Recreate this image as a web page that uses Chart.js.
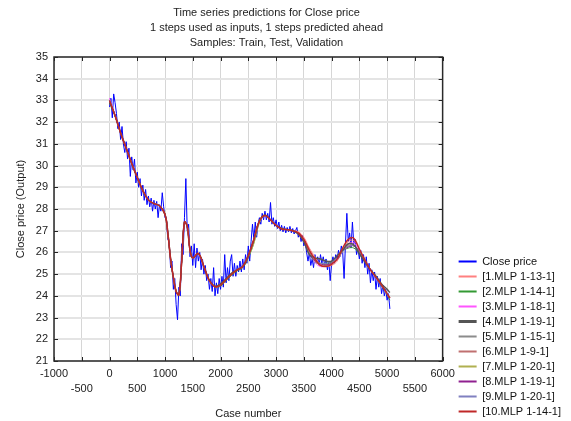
<!DOCTYPE html>
<html><head><meta charset="utf-8">
<script src="https://cdn.jsdelivr.net/npm/chart.js@4.4.0/dist/chart.umd.min.js"></script>
<style>html,body{margin:0;padding:0;background:#fff;}#wrap{width:571px;height:421px;}</style>
</head><body><div id="wrap"><canvas id="c" width="571" height="421"></canvas></div>
<script>
const titleLines = ['Time series predictions for Close price', '1 steps used as inputs, 1 steps predicted ahead', 'Samples: Train, Test, Validation'];
const xTitle = 'Case number';
const yTitle = 'Close price (Output)';
const seriesNames = ['Close price','[1.MLP 1-13-1]','[2.MLP 1-14-1]','[3.MLP 1-18-1]','[4.MLP 1-19-1]','[5.MLP 1-15-1]','[6.MLP 1-9-1]','[7.MLP 1-20-1]','[8.MLP 1-19-1]','[9.MLP 1-20-1]','[10.MLP 1-14-1]'];

// Close price: one value every 25 cases starting at case 0
const closeStart = 0, closeStep = 25;
const closeValues = [
32.7,33.1,32.2,33.3,32.9,32.4,31.7,32.0,31.2,31.8,
31.0,30.6,31.1,30.3,30.8,29.5,30.4,29.8,30.3,29.2,
29.7,29.0,29.4,28.6,29.1,28.4,28.9,28.2,28.6,28.1,
28.5,27.9,28.4,28.0,28.35,27.6,28.2,27.9,28.75,28.1,
27.6,27.5,26.6,26.5,25.3,25.6,24.3,24.8,23.6,22.9,
24.4,24.0,26.4,25.9,27.6,29.4,27.0,27.3,25.8,26.3,
25.4,26.4,25.3,26.2,25.6,26.0,25.2,25.7,25.0,25.4,
24.7,25.0,24.3,24.8,24.2,25.3,24.0,24.6,24.1,24.8,
24.3,24.9,24.4,25.9,24.6,25.3,24.7,25.6,25.9,24.9,
25.5,24.9,25.4,25.1,25.6,25.1,25.7,25.2,25.9,25.5,
26.3,25.6,26.5,27.3,26.6,27.4,26.7,27.3,27.6,27.3,
27.8,27.5,27.9,27.5,27.8,27.4,28.3,27.3,27.6,27.2,
27.5,27.1,27.4,27.0,27.25,26.95,27.2,26.9,27.15,26.95,
27.2,26.9,27.1,26.85,27.0,27.15,26.7,26.9,26.5,26.8,
26.3,26.5,26.0,25.6,26.0,25.4,25.7,25.3,25.9,25.5,
25.8,25.4,25.9,25.5,25.8,25.4,25.7,25.2,25.6,24.7,
25.5,25.8,25.5,25.9,25.7,26.1,25.8,26.3,26.0,24.8,
26.4,27.8,26.5,26.9,26.2,27.4,26.4,26.6,25.9,26.2,
25.7,26.1,25.5,25.9,25.3,25.8,25.0,25.5,24.6,25.2,
24.7,25.1,24.3,24.9,24.4,24.8,24.1,24.5,24.0,24.3,
23.8,24.1,23.4];

// model predictions sampled at these cases
const modelCases = [0,100,200,300,400,500,600,700,800,900,1000,1050,1100,1150,1200,1250,1300,1350,1400,1450,1500,1600,1700,1800,1900,2000,2100,2200,2300,2400,2500,2600,2700,2800,2900,3000,3100,3200,3300,3400,3500,3600,3700,3800,3900,4000,4100,4200,4300,4400,4500,4600,4700,4800,4900,5000,5050];
const mlp1 = [33.0,32.3,31.5,30.8,30.1,29.45,28.85,28.42,28.25,28.15,27.75,26.9,25.7,24.85,24.2,24.05,25.6,27.4,27.2,26.1,25.75,25.95,25.35,24.7,24.42,24.5,24.75,25.0,25.2,25.35,25.85,26.6,27.45,27.7,27.5,27.25,27.08,27.05,27.0,26.95,26.7,26.2,25.8,25.45,25.35,25.4,25.6,26.1,26.5,26.55,26.15,25.65,25.2,24.85,24.5,24.1,23.9];
const mlp2 = [32.95,32.3,31.5,30.8,30.1,29.45,28.85,28.42,28.25,28.15,27.75,26.9,25.7,24.85,24.2,24.05,25.6,27.4,27.2,26.1,25.75,25.95,25.35,24.7,24.4,24.45,24.7,24.95,25.15,25.3,25.75,26.45,27.4,27.7,27.5,27.25,27.08,27.05,27.0,26.85,26.5,25.95,25.55,25.5,25.5,25.55,25.68,26.05,26.2,26.2,25.95,25.6,25.2,24.85,24.45,24.05,23.8];
const mlp3 = [33.1,32.3,31.5,30.8,30.1,29.45,28.85,28.42,28.25,28.15,27.75,26.9,25.7,24.85,24.2,24.05,25.6,27.4,27.2,26.1,25.75,25.95,25.35,24.7,24.42,24.5,24.75,25.0,25.2,25.35,25.85,26.6,27.45,27.7,27.5,27.25,27.08,27.05,27.0,26.85,26.55,26.05,25.55,25.35,25.38,25.5,25.68,26.05,26.4,26.45,26.1,25.6,25.2,24.85,24.5,24.1,23.9];
const mlp4 = [32.9,32.3,31.5,30.8,30.1,29.45,28.85,28.42,28.25,28.15,27.75,26.9,25.7,24.85,24.2,24.05,25.6,27.4,27.2,26.1,25.75,25.95,25.35,24.7,24.45,24.55,24.8,25.05,25.2,25.35,25.85,26.6,27.45,27.72,27.5,27.25,27.1,27.05,27.0,26.85,26.5,25.9,25.75,25.7,25.6,25.6,25.85,26.1,26.4,26.35,25.95,25.55,25.2,24.9,24.55,24.3,24.15];
const mlp5 = [33.0,32.3,31.5,30.8,30.1,29.45,28.85,28.42,28.25,28.15,27.75,26.9,25.7,24.85,24.2,24.05,25.6,27.4,27.2,26.1,25.75,25.95,25.35,24.7,24.42,24.5,24.75,25.0,25.2,25.35,25.85,26.6,27.45,27.7,27.5,27.25,27.08,27.05,27.0,26.85,26.5,25.95,25.6,25.5,25.45,25.5,25.68,26.05,26.25,26.3,26.02,25.6,25.2,24.85,24.5,24.1,23.9];
const mlp6 = [33.0,32.3,31.5,30.8,30.1,29.45,28.85,28.42,28.25,28.15,27.75,26.9,25.7,24.85,24.2,24.05,25.6,27.4,27.2,26.1,25.75,25.95,25.35,24.7,24.42,24.5,24.75,25.0,25.2,25.35,25.85,26.6,27.45,27.7,27.5,27.25,27.08,27.05,27.0,26.9,26.6,26.05,25.62,25.48,25.42,25.5,25.68,26.05,26.35,26.35,26.02,25.6,25.2,24.85,24.5,24.1,23.9];
const mlp7 = [33.0,32.3,31.5,30.8,30.1,29.45,28.85,28.42,28.25,28.15,27.75,26.9,25.7,24.85,24.2,24.05,25.6,27.4,27.2,26.1,25.75,25.95,25.35,24.7,24.42,24.5,24.75,25.0,25.2,25.35,25.8,26.4,27.35,27.7,27.5,27.25,27.08,27.05,27.0,26.85,26.5,25.95,25.62,25.4,25.4,25.5,25.68,26.05,26.3,26.3,26.02,25.6,25.2,24.85,24.5,24.1,23.9];
const mlp8 = [33.0,32.3,31.5,30.8,30.1,29.45,28.85,28.42,28.25,28.15,27.75,26.9,25.7,24.85,24.2,24.05,25.6,27.4,27.2,26.1,25.75,25.95,25.35,24.7,24.42,24.5,24.75,25.0,25.2,25.35,25.85,26.6,27.45,27.7,27.5,27.25,27.08,27.05,27.0,26.85,26.5,25.9,25.62,25.48,25.42,25.5,25.68,26.05,26.25,26.3,26.02,25.6,25.2,24.85,24.5,24.1,23.9];
const mlp9 = [33.0,32.3,31.5,30.8,30.1,29.45,28.85,28.42,28.25,28.15,27.75,26.9,25.7,24.85,24.2,24.05,25.6,27.4,27.2,26.1,25.75,25.95,25.35,24.7,24.42,24.5,24.75,25.0,25.2,25.35,25.85,26.6,27.45,27.7,27.5,27.25,27.08,27.05,27.0,26.85,26.5,25.95,25.65,25.5,25.5,25.58,25.7,26.05,26.3,26.3,26.02,25.6,25.2,24.85,24.5,24.1,23.9];
const mlp10 = [33.0,32.3,31.5,30.8,30.1,29.45,28.85,28.42,28.25,28.15,27.75,26.9,25.7,24.85,24.2,24.05,25.6,27.4,27.2,26.1,25.75,25.95,25.35,24.7,24.42,24.5,24.75,25.0,25.2,25.35,25.85,26.6,27.45,27.7,27.5,27.25,27.08,27.05,27.0,26.9,26.6,26.1,25.7,25.4,25.35,25.45,25.7,26.2,26.6,26.65,26.15,25.65,25.2,24.85,24.5,24.1,23.9];
const modelValues = [mlp1,mlp2,mlp3,mlp4,mlp5,mlp6,mlp7,mlp8,mlp9,mlp10];

const xTicks = {min:-1000, max:6000, step:500};
const yTicks = {min:21, max:35, step:1};

const colors = ['#0000ff','#ff8080','#339933','#ff55ff','#555555','#8c8c8c','#c07070','#b0b050','#902090','#8080c0','#c02828'];
const widths = [1,1,1,1,1.5,1,1,1,1,1,1.5];
const legendWidths = [2,2,2,2,3,2,2,2,2,2,2];
const orders = [20,10,9,8,2,7,6,5,4,3,1];

const FONT = "'Liberation Sans', Arial, sans-serif";

const datasets = [];
datasets.push({
  label: seriesNames[0],
  data: closeValues.map((v,i)=>({x: closeStart + i*closeStep, y: v})),
  borderColor: colors[0], backgroundColor: colors[0], borderWidth: widths[0],
  pointRadius: 0, tension: 0, order: orders[0]
});
modelValues.forEach((arr, k) => {
  datasets.push({
    label: seriesNames[k+1],
    data: arr.map((v,i)=>({x: modelCases[i], y: v})),
    borderColor: colors[k+1], backgroundColor: colors[k+1], borderWidth: widths[k+1],
    pointRadius: 0, tension: 0.4, order: orders[k+1]
  });
});

const framePlugin = {
  id: 'frame',
  afterLayout(chart) {
    if (chart.titleBlock) { chart.titleBlock.left = 0; chart.titleBlock.right = 533; }
  },
  afterDatasetsDraw(chart) {
    const {ctx, chartArea: a, scales: {x, y}} = chart;
    ctx.save();
    ctx.strokeStyle = '#222';
    ctx.lineWidth = 1;
    ctx.beginPath();
    x.ticks.forEach(t => {
      const px = Math.round(x.getPixelForValue(t.value)) + 0.5;
      ctx.moveTo(px, a.top); ctx.lineTo(px, a.top + 4);
      ctx.moveTo(px, a.bottom); ctx.lineTo(px, a.bottom - 4);
    });
    y.ticks.forEach(t => {
      const py = Math.round(y.getPixelForValue(t.value)) + 0.5;
      ctx.moveTo(a.left, py); ctx.lineTo(a.left + 4, py);
      ctx.moveTo(a.right, py); ctx.lineTo(a.right - 4, py);
    });
    ctx.stroke();
    ctx.lineWidth = 1.5;
    ctx.strokeStyle = '#2a2a2a';
    ctx.strokeRect(a.left, a.top, a.right - a.left, a.bottom - a.top);
    ctx.restore();
  }
};

new Chart(document.getElementById('c'), {
  type: 'line',
  data: { datasets },
  plugins: [framePlugin],
  options: {
    responsive: false, animation: false, devicePixelRatio: 1,
    layout: { padding: 0 },
    plugins: {
      title: { display: true, text: titleLines, color: '#222',
        font: { family: FONT, size: 11, weight: 'normal', lineHeight: 15/11 },
        padding: { top: 5, bottom: 7 } },
      legend: { position: 'right', align: 'end', maxWidth: 117,
        labels: { usePointStyle: true, pointStyle: 'line', pointStyleWidth: 18, boxWidth: 18, boxHeight: 11, padding: 4, color: '#111',
          font: { family: FONT, size: 11 },
          generateLabels: (chart) => chart.data.datasets.map((ds, i) => ({
            text: ds.label, fillStyle: ds.borderColor, strokeStyle: ds.borderColor,
            lineWidth: legendWidths[i], pointStyle: 'line', hidden: false, datasetIndex: i, fontColor: '#111'
          }))
        } },
      tooltip: { enabled: false }
    },
    scales: {
      x: { type: 'linear', min: xTicks.min, max: xTicks.max,
        ticks: { stepSize: xTicks.step, autoSkip: false, maxRotation: 0, padding: 5, color: '#222',
          font: { family: FONT, size: 11, lineHeight: 15/11 },
          callback: (v) => (v % 1000 === 0) ? String(v) : ['', String(v)] },
        grid: { color: '#d6d6d6', lineWidth: 1, drawTicks: false },
        border: { display: false },
        title: { display: true, text: xTitle, color: '#222', font: { family: FONT, size: 11 }, padding: { top: 2, bottom: 0 } },
        afterFit: (s) => { s.height = 60; } },
      y: { type: 'linear', min: yTicks.min, max: yTicks.max,
        ticks: { stepSize: yTicks.step, padding: 6, color: '#222', font: { family: FONT, size: 11 } },
        grid: { color: '#e4e4e4', lineWidth: 2, drawTicks: false },
        border: { display: false },
        title: { display: true, text: yTitle, color: '#222', font: { family: FONT, size: 11 }, padding: { top: 14.5, bottom: 0 } },
        afterFit: (s) => { s.width = 54; } },
      y2: { position: 'right', display: true,
        grid: { display: false, drawTicks: false }, ticks: { display: false }, border: { display: false },
        afterFit: (s) => { s.width = 12; } }
    }
  }
});
</script></body></html>
